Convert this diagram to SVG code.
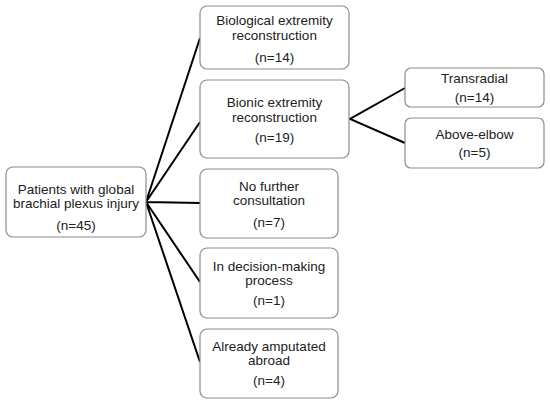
<svg xmlns="http://www.w3.org/2000/svg" width="550" height="405" viewBox="0 0 550 405">
<style>
.box{fill:#fff;stroke:#8c8c8c;stroke-width:1.2}
.t{font-family:"Liberation Sans",Arial,sans-serif;font-size:13.5px;fill:#222;text-anchor:middle}
.c{stroke:#000;stroke-width:2;fill:none}
</style>
<rect width="550" height="405" fill="#fff"/>
<g id="connectors">
<path class="c" d="M146 202 L200 38 M146 202 L200 122 M146 202 L200 203 M146 202 L200 282 M146 202 L200 362"/>
<path class="c" d="M405 88 L350 119 L405 143"/>
</g>
<g id="root">
<rect class="box" x="6" y="167" width="140" height="70" rx="7"/>
<text class="t" x="76" y="194">Patients with global</text>
<text class="t" x="76" y="208">brachial plexus injury</text>
<text class="t" x="76" y="230">(n=45)</text>
</g>
<g id="bio">
<rect class="box" x="200" y="6" width="149" height="63" rx="7"/>
<text class="t" x="274.5" y="25">Biological extremity</text>
<text class="t" x="274.5" y="40">reconstruction</text>
<text class="t" x="274.5" y="62">(n=14)</text>
</g>
<g id="bionic">
<rect class="box" x="200" y="80" width="149" height="78" rx="7"/>
<text class="t" x="274.5" y="107">Bionic extremity</text>
<text class="t" x="274.5" y="122">reconstruction</text>
<text class="t" x="274.5" y="142">(n=19)</text>
</g>
<g id="nofurther">
<rect class="box" x="200" y="169" width="138" height="69" rx="7"/>
<text class="t" x="269" y="191">No further</text>
<text class="t" x="269" y="205">consultation</text>
<text class="t" x="269" y="227">(n=7)</text>
</g>
<g id="decision">
<rect class="box" x="200" y="248" width="138" height="70" rx="7"/>
<text class="t" x="269" y="271">In decision-making</text>
<text class="t" x="269" y="285">process</text>
<text class="t" x="269" y="305">(n=1)</text>
</g>
<g id="amputated">
<rect class="box" x="200" y="329" width="138" height="69" rx="7"/>
<text class="t" x="269" y="351">Already amputated</text>
<text class="t" x="269" y="365">abroad</text>
<text class="t" x="269" y="385">(n=4)</text>
</g>
<g id="transradial">
<rect class="box" x="405" y="68" width="139" height="39" rx="6"/>
<text class="t" x="474.5" y="83">Transradial</text>
<text class="t" x="474.5" y="102">(n=14)</text>
</g>
<g id="aboveelbow">
<rect class="box" x="405" y="118" width="139" height="50" rx="6"/>
<text class="t" x="474.5" y="139">Above-elbow</text>
<text class="t" x="474.5" y="157">(n=5)</text>
</g>
</svg>
